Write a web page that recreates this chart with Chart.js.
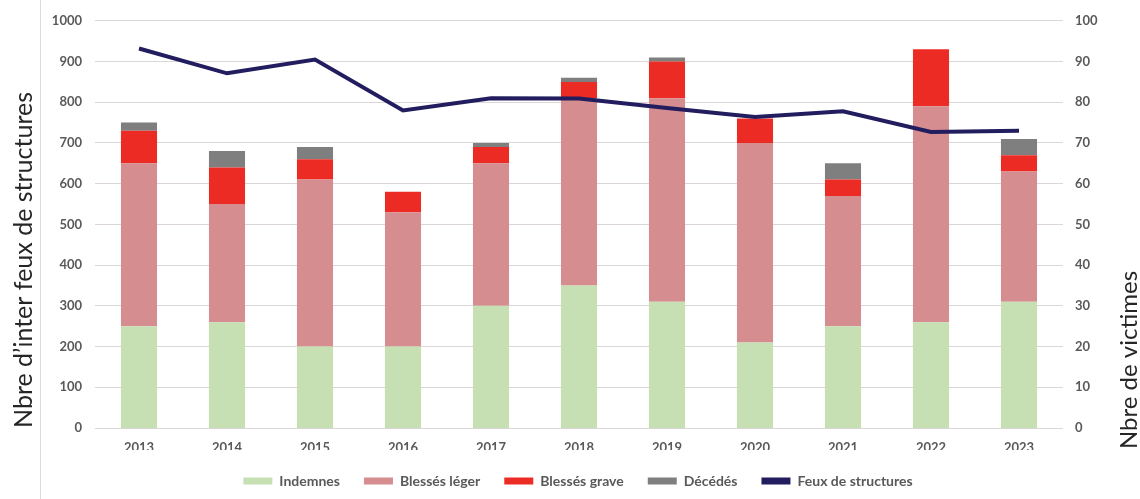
<!DOCTYPE html>
<html>
<head>
<meta charset="utf-8">
<script src="https://cdn.jsdelivr.net/npm/chart.js@4"></script>
<style>
  html, body { margin: 0; padding: 0; background: #ffffff; overflow: hidden; }
  #wrap { width: 1140px; height: 499px; position: relative; }
</style>
</head>
<body>
<div id="wrap"><canvas id="c" width="1140" height="499"></canvas></div>
<script>
// ---- Data ----
const years = ['2013','2014','2015','2016','2017','2018','2019','2020','2021','2022','2023'];
const indemnes      = [25, 26, 20, 20, 30, 35, 31, 21, 25, 26, 31];
const blessesLeger  = [40, 29, 41, 33, 35, 46, 50, 49, 32, 53, 32];
const blessesGrave  = [ 8,  9,  5,  5,  4,  4,  9,  6,  4, 14,  4];
const decedes       = [ 2,  4,  3,  0,  1,  1,  1,  0,  4,  0,  4];
const feuxStructures = [932, 871, 905, 780, 810, 809, 786, 764, 778, 727, 730];
const leftTicks  = [0, 100, 200, 300, 400, 500, 600, 700, 800, 900, 1000];
const rightTicks = [0, 10, 20, 30, 40, 50, 60, 70, 80, 90, 100];
const leftTitle  = 'Nbre d\u2019inter feux de structures';
const rightTitle = 'Nbre de victimes';

Chart.defaults.font.family = 'Lato, "Open Sans", sans-serif';

const tickColor = '#595959';
const gridColor = '#dcd6d6';

const decorPlugin = {
  id: 'decor',
  beforeDraw(chart) {
    const ctx = chart.ctx;
    ctx.save();
    ctx.strokeStyle = '#dadada';
    ctx.lineWidth = 1;
    ctx.beginPath();
    ctx.moveTo(40.5, 0);
    ctx.lineTo(40.5, chart.height);
    ctx.stroke();
    ctx.restore();
  },
  afterDraw(chart) {
    const ctx = chart.ctx;
    ctx.save();
    ctx.fillStyle = '#262626';
    ctx.font = '25px Lato, "Open Sans", sans-serif';
    ctx.textAlign = 'center';
    ctx.textBaseline = 'alphabetic';
    ctx.translate(32, 260);
    ctx.rotate(-Math.PI / 2);
    ctx.fillText(leftTitle, 0, 0);
    ctx.restore();
    ctx.save();
    ctx.fillStyle = '#262626';
    ctx.font = '24px Lato, "Open Sans", sans-serif';
    ctx.textAlign = 'center';
    ctx.textBaseline = 'alphabetic';
    ctx.translate(1137, 360);
    ctx.rotate(-Math.PI / 2);
    ctx.fillText(rightTitle, 0, 0);
    ctx.restore();
  },
  afterLayout(chart) {
    const lg = chart.legend;
    if (lg) {
      const shift = -12;
      lg.left += shift;
      lg.right += shift;
    }
  }
};

new Chart(document.getElementById('c'), {
  data: {
    labels: years,
    datasets: [
      { type: 'bar', label: 'Indemnes', data: indemnes, backgroundColor: '#c6e0b4', yAxisID: 'y1', order: 1 },
      { type: 'bar', label: 'Bless\u00e9s l\u00e9ger', data: blessesLeger, backgroundColor: '#d58d8f', yAxisID: 'y1', order: 1 },
      { type: 'bar', label: 'Bless\u00e9s grave', data: blessesGrave, backgroundColor: '#ec2b24', yAxisID: 'y1', order: 1 },
      { type: 'bar', label: 'D\u00e9c\u00e9d\u00e9s', data: decedes, backgroundColor: '#7f7f7f', yAxisID: 'y1', order: 1 },
      { type: 'line', label: 'Feux de structures', data: feuxStructures, borderColor: '#221d5e', backgroundColor: '#221d5e',
        borderWidth: 4, pointRadius: 0, tension: 0, fill: false, yAxisID: 'y', order: 0 }
    ]
  },
  options: {
    responsive: false,
    animation: false,
    devicePixelRatio: 1,
    layout: { padding: { left: 40, right: 0, top: 15, bottom: 1 } },
    datasets: { bar: { barPercentage: 0.41, categoryPercentage: 1 } },
    plugins: {
      legend: {
        position: 'bottom',
        labels: {
          boxWidth: 29,
          boxHeight: 7,
          padding: 24,
          color: tickColor,
          font: { size: 14, weight: 'bold' },
          sort: (a, b) => a.datasetIndex - b.datasetIndex,
          generateLabels(chart) {
            const items = Chart.defaults.plugins.legend.labels.generateLabels(chart);
            items.forEach(it => { it.lineWidth = 0; });
            return items;
          }
        }
      },
      tooltip: { enabled: false }
    },
    scales: {
      x: {
        stacked: true,
        grid: { display: false, drawTicks: false },
        border: { display: false },
        ticks: { color: tickColor, font: { size: 13, weight: 'bold' }, padding: 12, maxRotation: 0 },
        afterFit(scale) { scale.height = 22; }
      },
      y: {
        position: 'left',
        min: 0, max: 1000,
        afterBuildTicks(scale) { scale.ticks = leftTicks.map(v => ({ value: v })); },
        grid: { color: gridColor, drawTicks: false, lineWidth: 1 },
        border: { display: false },
        ticks: { color: tickColor, font: { size: 13, weight: 'bold' }, padding: 13, callback: v => String(v) },
        afterFit(scale) { scale.width = 55; }
      },
      y1: {
        position: 'right',
        stacked: true,
        min: 0, max: 100,
        afterBuildTicks(scale) { scale.ticks = rightTicks.map(v => ({ value: v })); },
        grid: { display: false, drawTicks: false },
        border: { display: false },
        ticks: { color: tickColor, font: { size: 13, weight: 'bold' }, padding: 12, callback: v => String(v) },
        afterFit(scale) { scale.width = 77; }
      }
    }
  },
  plugins: [decorPlugin]
});
</script>
</body>
</html>
